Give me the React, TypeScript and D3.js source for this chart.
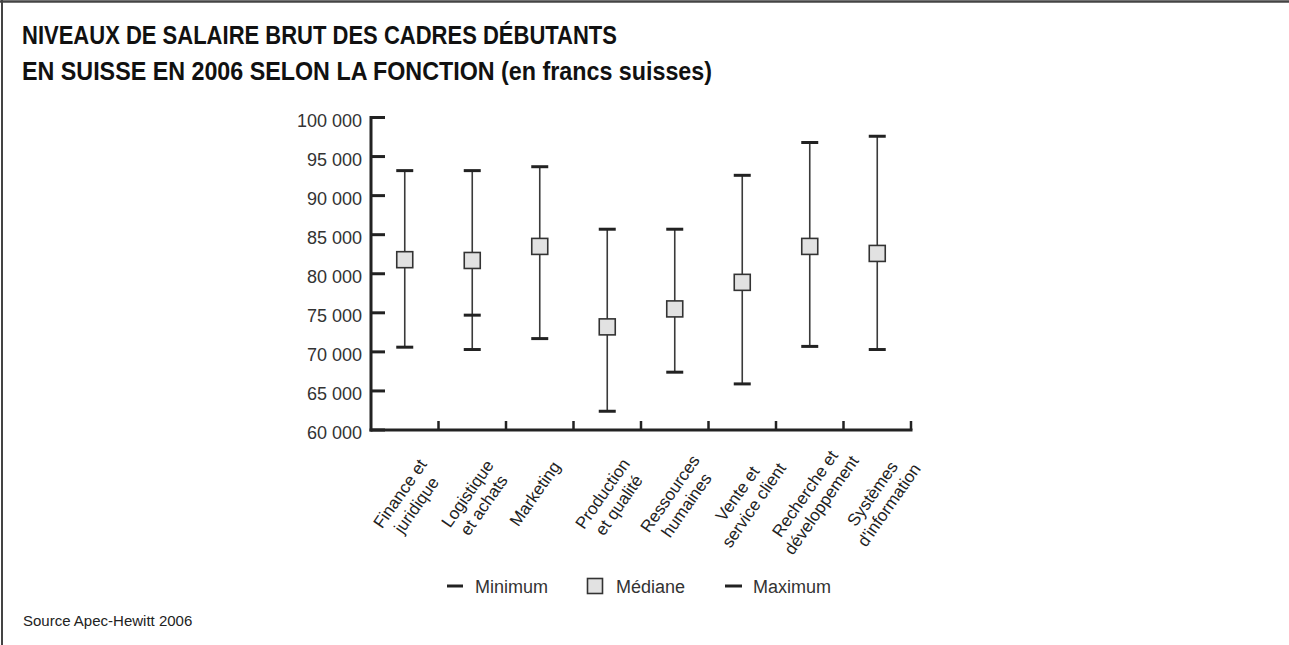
import React from "react";
import * as d3 from "d3";

const categories: string[][] = [
  ["Finance et", "juridique"],
  ["Logistique", "et achats"],
  ["Marketing"],
  ["Production", "et qualité"],
  ["Ressources", "humaines"],
  ["Vente et", "service client"],
  ["Recherche et", "développement"],
  ["Systèmes", "d'information"],
];
const minimum = [70600, 70300, 71700, 62400, 67400, 65900, 70700, 70300];
const median = [81800, 81700, 83500, 73200, 75500, 78900, 83500, 82600];
const maximum = [93200, 93200, 93700, 85700, 85700, 92600, 96800, 97600];
const extraMark: (number | null)[] = [null, 74700, null, null, null, null, null, null];
const yTicks = [60000, 65000, 70000, 75000, 80000, 85000, 90000, 95000, 100000];
const titleLines = [
  "NIVEAUX DE SALAIRE BRUT DES CADRES DÉBUTANTS",
  "EN SUISSE EN 2006 SELON LA FONCTION (en francs suisses)",
];
const legendItems = ["Minimum", "Médiane", "Maximum"];
const sourceText = "Source Apec-Hewitt 2006";

const W = 1289;
const H = 645;
const FONT = "'Liberation Sans', Arial, sans-serif";

export default function App() {
  const keys = categories.map((c) => c.join(" "));
  const x = d3.scaleBand<string>().domain(keys).range([371, 911]);
  const y = d3.scaleLinear().domain([60000, 100000]).range([430, 117.5]);
  const fmt = (v: number) => d3.format(",")(v).replace(/,/g, " ");
  const capW = 17;
  const sq = 16;
  const dark = "#222";

  return (
    <svg
      width={W}
      height={H}
      style={{ position: "absolute", left: 0, top: 0, background: "#fff" }}
      fontFamily={FONT}
    >
      <rect x={0} y={0} width={W} height={H} fill="#fff" />
      {/* frame */}
      <line x1={0} x2={W} y1={1.5} y2={1.5} stroke="#444" strokeWidth={2.5} />
      <line x1={2} x2={2} y1={0} y2={H} stroke="#444" strokeWidth={2} />

      {/* title */}
      {titleLines.map((t, i) => (
        <text
          key={i}
          x={22}
          y={44 + i * 36}
          fontSize={25}
          fontWeight="bold"
          fill="#111"
          textLength={i === 0 ? 595 : 690}
          lengthAdjust="spacingAndGlyphs"
        >
          {t}
        </text>
      ))}

      {/* y axis */}
      <line x1={371} x2={371} y1={y(100000) - 1.5} y2={431.5} stroke={dark} strokeWidth={3} />
      {yTicks.map((v) => (
        <g key={v}>
          <line x1={371} x2={385} y1={y(v)} y2={y(v)} stroke={dark} strokeWidth={3} />
          <text x={362} y={y(v) + 9} textAnchor="end" fontSize={18} fill="#333">
            {fmt(v)}
          </text>
        </g>
      ))}

      {/* x axis */}
      <line x1={369.5} x2={912.5} y1={430} y2={430} stroke={dark} strokeWidth={3} />
      {keys.map((k) => {
        const bx = (x(k) as number) + x.bandwidth();
        return <line key={k} x1={bx} x2={bx} y1={421} y2={430} stroke={dark} strokeWidth={2.5} />;
      })}

      {/* whiskers */}
      {keys.map((k, i) => {
        const cx = (x(k) as number) + x.bandwidth() / 2;
        const em = extraMark[i];
        return (
          <g key={k}>
            <line x1={cx} x2={cx} y1={y(maximum[i])} y2={y(minimum[i])} stroke="#3a3a3a" strokeWidth={1.6} />
            <line x1={cx - capW / 2} x2={cx + capW / 2} y1={y(maximum[i])} y2={y(maximum[i])} stroke={dark} strokeWidth={3} />
            <line x1={cx - capW / 2} x2={cx + capW / 2} y1={y(minimum[i])} y2={y(minimum[i])} stroke={dark} strokeWidth={3} />
            {em !== null && (
              <line x1={cx - capW / 2} x2={cx + capW / 2} y1={y(em)} y2={y(em)} stroke={dark} strokeWidth={3} />
            )}
            <rect
              x={cx - sq / 2}
              y={y(median[i]) - sq / 2}
              width={sq}
              height={sq}
              fill="#e2e2e2"
              stroke="#333"
              strokeWidth={1.6}
            />
          </g>
        );
      })}

      {/* category labels */}
      {categories.map((lines, i) => {
        const cx = (x(keys[i]) as number) + x.bandwidth() / 2;
        return (
          <g key={i} transform={`translate(${cx},497) rotate(-55)`}>
            {lines.map((l, j) => (
              <text key={j} x={0} y={j * 20} textAnchor="middle" fontSize={17} fill="#222">
                {l}
              </text>
            ))}
          </g>
        );
      })}

      {/* legend */}
      <line x1={447} x2={463} y1={586} y2={586} stroke={dark} strokeWidth={3} />
      <text x={475} y={593} fontSize={18} fill="#333">{legendItems[0]}</text>
      <rect x={587.5} y={578.5} width={15} height={15} fill="#e2e2e2" stroke="#333" strokeWidth={1.6} />
      <text x={616} y={593} fontSize={18} fill="#333">{legendItems[1]}</text>
      <line x1={725} x2={742} y1={586} y2={586} stroke={dark} strokeWidth={3} />
      <text x={753} y={593} fontSize={18} fill="#333">{legendItems[2]}</text>

      {/* source */}
      <text x={23} y={626} fontSize={15} fill="#222">{sourceText}</text>
    </svg>
  );
}
